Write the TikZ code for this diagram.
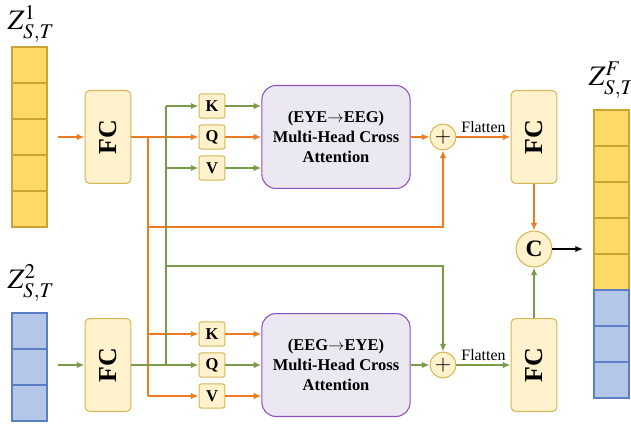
\documentclass[tikz,border=0pt]{standalone}
\usepackage{mathptmx}
\usepackage[no-math]{fontspec}
\setmainfont{Liberation Serif}
\usetikzlibrary{arrows.meta}
\definecolor{orng}{HTML}{EE7A22}
\definecolor{olv}{HTML}{7A9C48}
\definecolor{barY}{HTML}{FFD966}
\definecolor{barYl}{HTML}{C9A336}
\definecolor{barB}{HTML}{B4C7E7}
\definecolor{barBl}{HTML}{5B7EC6}
\definecolor{fcfill}{HTML}{FFF2CC}
\definecolor{fcline}{HTML}{D6B656}
\definecolor{attfill}{HTML}{ECE8F2}
\definecolor{attline}{HTML}{8E4FC0}

\begin{document}
\begin{tikzpicture}[x=0.85pt,y=-0.85pt,line width=1.4pt,
  fcbox/.style={draw=fcline,fill=fcfill,line width=0.9pt,rounded corners=4pt,
    minimum width=39pt,minimum height=79pt,inner sep=0pt,font=\fontsize{22}{22}\selectfont\bfseries},
  kqv/.style={draw=fcline,fill=fcfill,line width=0.9pt,rounded corners=2pt,
    minimum width=22pt,minimum height=20.5pt,inner sep=0pt,font=\fontsize{14}{14}\selectfont\bfseries},
  attn/.style={draw=attline,fill=attfill,line width=0.9pt,rounded corners=12pt,
    minimum width=126pt,minimum height=87.5pt,align=center,font=\fontsize{14}{17}\selectfont\bfseries},
  addc/.style={circle,draw=fcline,fill=fcfill,line width=0.9pt,minimum size=22pt,inner sep=0pt,
    font=\fontsize{18}{18}\selectfont},
  catc/.style={circle,draw=fcline,fill=fcfill,line width=0.9pt,minimum size=30.5pt,inner sep=0pt,
    font=\fontsize{20}{20}\selectfont\bfseries},
  zlab/.style={font=\fontsize{24}{24}\selectfont},
  org/.style={orng,-{Latex[length=6.5pt,width=5.5pt]}},
  grn/.style={olv,-{Latex[length=6.5pt,width=5.5pt]}},
  ycell/.style={draw=barYl,fill=barY,line width=0.9pt},
  bcell/.style={draw=barBl,fill=barB,line width=0.9pt}]
\useasboundingbox (0,0) rectangle (631,428);

% input and output feature bars
\foreach \i in {0,...,4}
  \draw[ycell] (12,47+36*\i) rectangle (47,83+36*\i);
\foreach \i in {0,...,2}
  \draw[bcell] (12,313+36*\i) rectangle (47,349+36*\i);
\foreach \i in {0,...,4}
  \draw[ycell] (594,110+36*\i) rectangle (629,146+36*\i);
\foreach \i in {0,...,2}
  \draw[bcell] (594,290+36*\i) rectangle (629,326+36*\i);
\node[zlab] (zA) at (31,24) {$Z_{S,T}^{1}$};
\node[zlab] (zB) at (31,283) {$Z_{S,T}^{2}$};
\node[zlab] (zF) at (612,80) {$Z_{S,T}^{F}$};

% blocks
\node[fcbox] (fcA) at (108,137) {\rotatebox{90}{FC}};
\node[fcbox] (fcB) at (108,365) {\rotatebox{90}{FC}};
\node[kqv] (kA) at (212,106) {K};
\node[kqv] (qA) at (212,137) {Q};
\node[kqv] (vA) at (212,168) {V};
\node[kqv] (kB) at (212,334) {K};
\node[kqv] (qB) at (212,365) {Q};
\node[kqv] (vB) at (212,396) {V};
\node[attn] (attA) at (336,137) {(EYE$\rightarrow$EEG)\\Multi-Head Cross\\Attention};
\node[attn] (attB) at (336,365) {(EEG$\rightarrow$EYE)\\Multi-Head Cross\\Attention};
\node[addc] (plA) at (443,137) {$+$};
\node[addc] (plB) at (443,365) {$+$};
\node[fcbox] (fcC) at (534,137) {\rotatebox{90}{FC}};
\node[fcbox] (fcD) at (534,365) {\rotatebox{90}{FC}};
\node[catc] (cat) at (534,249) {C};

% branch points
\coordinate (inA) at (58,137);
\coordinate (inB) at (58,365);
\coordinate (oTop) at (148,137);
\coordinate (oSkip) at (148,227);
\coordinate (oK) at (148,334);
\coordinate (oV) at (148,396);
\coordinate (gK) at (166,106);
\coordinate (gV) at (166,168);
\coordinate (gSkip) at (166,266);
\coordinate (gQ) at (166,365);
\coordinate (out) at (583,249);

% orange path (EYE)
\draw[org] (inA) -- (fcA);
\draw[org] (fcA) -- (qA);
\draw[org] (oTop) -- (oSkip) -| (plA);
\draw[orng] (oSkip) -- (oV);
\draw[org] (oK) -- (kB);
\draw[org] (oV) -- (vB);
\draw[org] (qA) -- (attA);
\draw[org] (kB) -- (kB -| attB.west);
\draw[org] (vB) -- (vB -| attB.west);
\draw[org] (attA) -- (plA);
\draw[org] (plA) -- node[above,black,font=\fontsize{13.5}{13.5}\selectfont] {Flatten} (fcC);
\draw[org] (fcC) -- (cat);

% green path (EEG)
\draw[grn] (inB) -- (fcB);
\draw[grn] (fcB) -- (qB);
\draw[olv] (gK) -- (gQ);
\draw[grn] (gK) -- (kA);
\draw[grn] (gV) -- (vA);
\draw[grn] (gSkip) -| (plB);
\draw[grn] (kA) -- (kA -| attA.west);
\draw[grn] (vA) -- (vA -| attA.west);
\draw[grn] (qB) -- (attB);
\draw[grn] (attB) -- (plB);
\draw[grn] (plB) -- node[above,black,font=\fontsize{13.5}{13.5}\selectfont] {Flatten} (fcD);
\draw[grn] (fcD) -- (cat);

\draw[-{Latex[length=6.5pt,width=5.5pt]}] (cat) -- (out);
\end{tikzpicture}
\end{document}
